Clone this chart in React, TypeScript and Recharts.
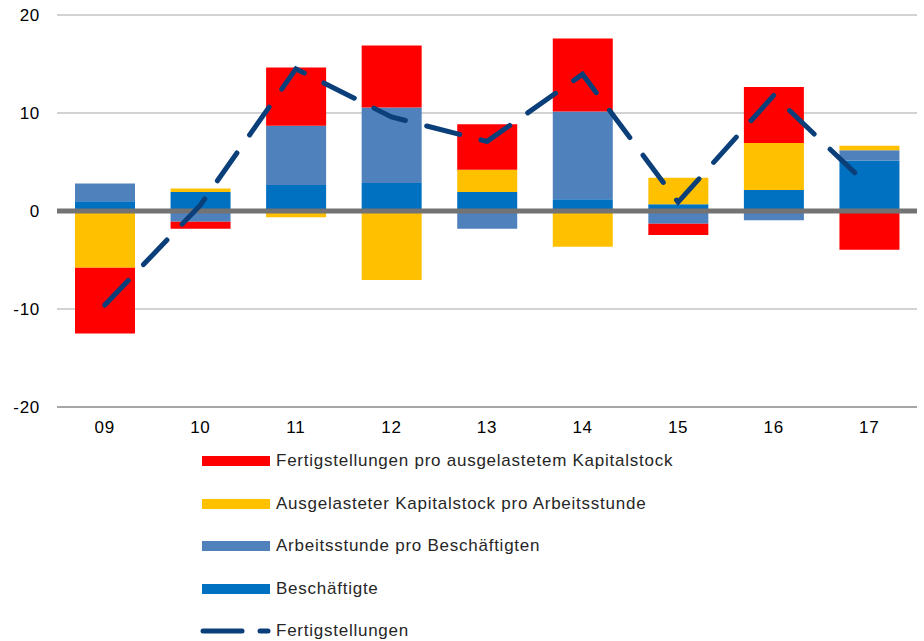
import { ComposedChart, Bar, Line, XAxis, YAxis, CartesianGrid, ReferenceLine } from 'recharts';

const years = ['09', '10', '11', '12', '13', '14', '15', '16', '17'];
const beschaeftigte = [1.0, 1.95, 2.65, 2.85, 1.95, 1.2, 0.7, 2.15, 5.15];
const arbeitsstunde = [1.8, -1.1, 6.05, 7.7, -1.8, 8.95, -1.3, -0.95, 1.05];
const kapitalstock = [-5.8, 0.35, -0.65, -7.05, 2.25, -3.65, 2.7, 4.8, 0.45];
const fertigProKapital = [-6.7, -0.7, 5.95, 6.35, 4.65, 7.45, -1.15, 5.7, -3.95];
const fertigstellungen = [-9.6, 0.6, 14.5, 9.6, 7.1, 13.95, 0.9, 11.8, 2.5];
const yTicks = [-20, -10, 0, 10, 20];

const data = years.map((year, i) => ({
  year,
  beschaeftigte: beschaeftigte[i],
  arbeitsstunde: arbeitsstunde[i],
  kapitalstock: kapitalstock[i],
  fertigProKapital: fertigProKapital[i],
  fertigstellungen: fertigstellungen[i],
}));

const FONT = '"Liberation Sans", Arial, sans-serif';
const LINE_COLOR = '#0b3f7a';
const tickStyle = { fill: '#000', fontSize: 17, fontFamily: FONT, letterSpacing: 0.7 };

const legendItems = [
  { name: 'Fertigstellungen pro ausgelastetem Kapitalstock', color: '#ff0000', dashed: false },
  { name: 'Ausgelasteter Kapitalstock pro Arbeitsstunde', color: '#ffc000', dashed: false },
  { name: 'Arbeitsstunde pro Beschäftigten', color: '#4f81bd', dashed: false },
  { name: 'Beschäftigte', color: '#0070c0', dashed: false },
  { name: 'Fertigstellungen', color: LINE_COLOR, dashed: true },
];

function ChartLegend() {
  return (
    <div style={{ position: 'absolute', left: 200, top: 440, fontFamily: FONT }}>
      {legendItems.map((item) => (
        <div key={item.name} style={{ display: 'flex', alignItems: 'center', height: 42.5 }}>
          <svg width={76} height={14} style={{ display: 'block' }}>
            {item.dashed ? (
              <g stroke={item.color} strokeWidth={5} strokeLinecap="round">
                <line x1={3} y1={7} x2={42} y2={7} />
                <line x1={60} y1={7} x2={68} y2={7} />
              </g>
            ) : (
              <rect x={2} y={2} width={68} height={10} fill={item.color} />
            )}
          </svg>
          <span style={{ fontSize: 17, letterSpacing: 0.75, color: '#262626', whiteSpace: 'nowrap' }}>
            {item.name}
          </span>
        </div>
      ))}
    </div>
  );
}

export default function App() {
  return (
    <div style={{ position: 'fixed', left: 0, top: 0, width: 924, height: 641, background: '#fff' }}>
      <ComposedChart
        width={924}
        height={641}
        data={data}
        stackOffset="sign"
        margin={{ top: 15, right: 7, bottom: 204, left: 0 }}
      >
        <CartesianGrid vertical={false} stroke="#a6a6a6" strokeWidth={1} />
        <XAxis
          dataKey="year"
          axisLine={{ stroke: '#a6a6a6', strokeWidth: 2 }}
          tickLine={false}
          tickSize={0}
          tickMargin={14}
          height={30}
          tick={tickStyle}
        />
        <YAxis
          domain={[-20, 20]}
          ticks={yTicks}
          axisLine={false}
          tickLine={false}
          tickSize={0}
          tickMargin={17}
          width={57}
          tick={tickStyle}
        />
        <Bar dataKey="beschaeftigte" stackId="a" fill="#0070c0" barSize={60} isAnimationActive={false} />
        <Bar dataKey="arbeitsstunde" stackId="a" fill="#4f81bd" barSize={60} isAnimationActive={false} />
        <Bar dataKey="kapitalstock" stackId="a" fill="#ffc000" barSize={60} isAnimationActive={false} />
        <Bar dataKey="fertigProKapital" stackId="a" fill="#ff0000" barSize={60} isAnimationActive={false} />
        <ReferenceLine y={0} stroke="#737373" strokeWidth={5} />
        <Line
          type="linear"
          dataKey="fertigstellungen"
          stroke={LINE_COLOR}
          strokeWidth={5}
          strokeDasharray="34 22"
          strokeLinecap="round"
          dot={false}
          activeDot={false}
          isAnimationActive={false}
        />
      </ComposedChart>
      <ChartLegend />
    </div>
  );
}
